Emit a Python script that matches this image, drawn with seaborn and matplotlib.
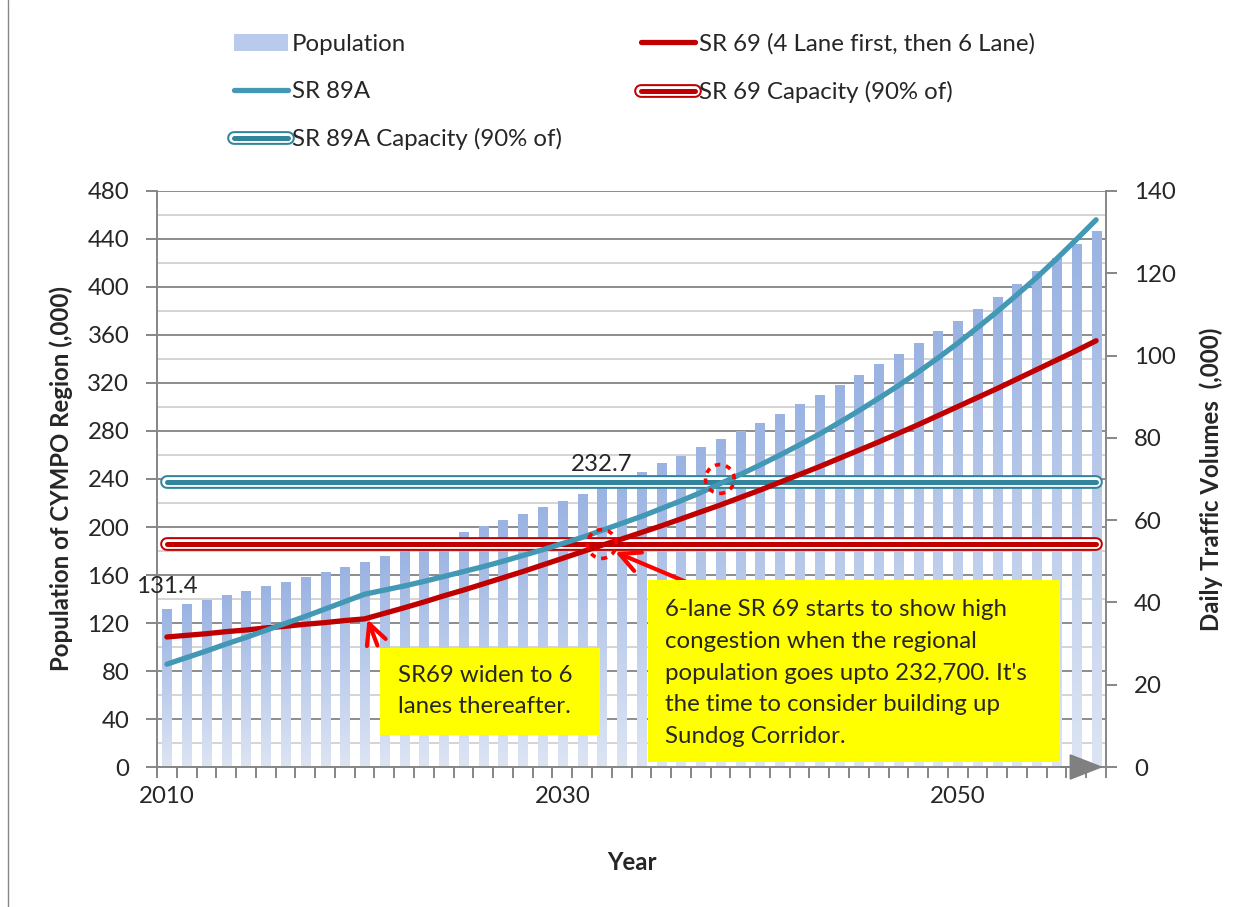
import numpy as np
import pandas as pd
import seaborn as sns
import matplotlib.pyplot as plt
import matplotlib.patheffects as pe
from matplotlib.colors import LinearSegmentedColormap
from matplotlib.lines import Line2D
from matplotlib.patches import Patch, Ellipse, Rectangle

# data
years = list(range(2010, 2058))
population = [131.4, 135.5, 139.0, 142.5, 146.5, 150.0, 154.0, 158.0, 162.0, 166.0,
              170.5, 175.0, 180.0, 185.0, 190.0, 195.0, 200.0, 205.0, 210.0, 216.0,
              221.5, 227.0, 232.7, 238.5, 245.5, 252.5, 259.0, 266.0, 272.5, 279.5,
              286.5, 294.0, 302.0, 309.5, 317.5, 326.5, 335.0, 344.0, 353.0, 362.5,
              371.5, 381.5, 391.5, 402.0, 412.5, 423.5, 435.0, 446.0]
sr69 = [31.6, 32.0, 32.4, 32.9, 33.3, 33.8, 34.2, 34.7, 35.1, 35.6,
        36.0, 37.35, 38.7, 40.1, 41.6, 43.0, 44.5, 46.0, 47.5, 49.1,
        50.7, 52.3, 53.9, 55.4, 57.0, 58.6, 60.3, 62.0, 63.7, 65.5,
        67.3, 69.2, 71.1, 73.0, 75.0, 77.0, 79.0, 81.1, 83.2, 85.4,
        87.6, 89.8, 92.0, 94.3, 96.6, 98.9, 101.2, 103.6]
sr89a = [25.0, 26.6, 28.2, 29.9, 31.5, 33.2, 34.9, 36.6, 38.4, 40.2,
         42.0, 43.0, 44.0, 45.1, 46.3, 47.5, 48.7, 50.0, 51.4, 52.8,
         54.3, 55.8, 57.5, 59.2, 60.9, 62.8, 64.7, 66.7, 68.9, 71.1,
         73.4, 75.8, 78.3, 80.9, 83.7, 86.6, 89.6, 92.7, 96.0, 99.4,
         103.0, 106.8, 110.7, 114.8, 119.0, 123.5, 128.2, 133.0]
sr69_capacity = 54.2
sr89a_capacity = 69.3
year_labels = ['2010', '2030', '2050']

df = pd.DataFrame({'Year': years, 'Population': population,
                   'SR69': sr69, 'SR89A': sr89a})
df['pos'] = range(len(df))
cap = pd.DataFrame({'pos': [0, len(df) - 1],
                    'SR69cap': [sr69_capacity] * 2,
                    'SR89Acap': [sr89a_capacity] * 2})

RED = '#C00000'
TEAL = '#4298B5'
TEAL_DK = '#31849B'
ARROW = '#FF0000'
GRAY = '#868686'

sns.set_theme(style='white')
plt.rcParams['font.family'] = ['Lato', 'DejaVu Sans']
FS = 17.3

fig = plt.figure(figsize=(12.52, 9.07), dpi=100)
ax = fig.add_axes([157 / 1252, 1 - 767 / 907, 949 / 1252, 576 / 907])

# population bars with a vertical gradient
sns.barplot(data=df, x='Year', y='Population', ax=ax, color='#9DB5E3',
            width=0.46, zorder=2)
cmap = LinearSegmentedColormap.from_list('pop', ['#DDE5F4', '#9AB3E2'])
grad = np.linspace(0, 1, 256).reshape(-1, 1)
for bar in ax.patches:
    x0, w, h = bar.get_x(), bar.get_width(), bar.get_height()
    ax.imshow(grad, extent=[x0, x0 + w, 0, h], origin='lower', aspect='auto',
              cmap=cmap, zorder=2)
    bar.set_alpha(0)

ax.set_xlim(-0.5, len(df) - 0.5)
ax.set_ylim(0, 480)
ax.set_yticks(range(0, 481, 40))
ax.set_yticks(range(20, 480, 40), minor=True)
ax.grid(axis='y', which='major', color='#8C8C8C', lw=1.4)
ax.grid(axis='y', which='minor', color='#D4D4D4', lw=1.4)
ax.set_axisbelow(True)
ax.set_xticks([years.index(int(y)) for y in year_labels])
ax.set_xticklabels(year_labels)
ax.set_xticks(np.arange(-0.5, len(df), 1), minor=True)
ax.tick_params(axis='x', which='major', length=0, pad=14, labelsize=FS)
ax.tick_params(axis='x', which='minor', length=8, width=1.4, color=GRAY, bottom=True)
ax.tick_params(axis='y', which='major', length=8, width=1.4, color=GRAY, pad=12,
               labelsize=FS, left=True)
ax.tick_params(axis='y', which='minor', length=0)
for s in ['left', 'bottom']:
    ax.spines[s].set_color(GRAY)
    ax.spines[s].set_linewidth(1.4)
ax.spines['top'].set_visible(False)
ax.spines['right'].set_visible(False)
ax.set_xlabel('Year', fontsize=FS, fontweight='bold', labelpad=31)
ax.set_ylabel('Population of CYMPO Region (,000)', fontsize=FS, fontweight='bold',
              labelpad=10)

for yr in [2010, 2032]:
    i = years.index(yr)
    ax.annotate(f'{population[i]:.1f}', xy=(i, population[i]), xytext=(0, 9),
                textcoords='offset points', ha='center', va='bottom', fontsize=FS)

# axis arrow
ax.annotate('', xy=(1.0, 0), xycoords='axes fraction', xytext=(0.95, 0),
            arrowprops=dict(arrowstyle='-|>,head_length=1.8,head_width=0.7',
                            color='#808080', lw=1.4), annotation_clip=False)

# traffic volumes
ax2 = ax.twinx()
ax2.set_ylim(0, 140)


def double_line(color):
    return [pe.Stroke(linewidth=9.9, foreground=color, capstyle='round'),
            pe.Stroke(linewidth=7.0, foreground='white', capstyle='round'),
            pe.Normal()]


sns.lineplot(data=cap, x='pos', y='SR69cap', ax=ax2, color=RED, lw=3.6,
             path_effects=double_line(RED), zorder=3)
sns.lineplot(data=cap, x='pos', y='SR89Acap', ax=ax2, color=TEAL_DK, lw=3.6,
             path_effects=double_line(TEAL_DK), zorder=3)
sns.lineplot(data=df, x='pos', y='SR69', ax=ax2, color=RED, lw=3.8,
             solid_capstyle='round', zorder=4)
sns.lineplot(data=df, x='pos', y='SR89A', ax=ax2, color=TEAL, lw=3.8,
             solid_capstyle='round', zorder=4)

ax2.set_yticks(range(0, 141, 20))
ax2.tick_params(axis='y', length=8, width=1.4, color=GRAY, pad=12, labelsize=FS,
                right=True)
ax2.spines['right'].set_color(GRAY)
ax2.spines['right'].set_linewidth(1.4)
for s in ['left', 'top', 'bottom']:
    ax2.spines[s].set_visible(False)
ax2.set_ylabel('Daily Traffic Volumes  (,000)', fontsize=FS, fontweight='bold',
               labelpad=17, rotation=90)
ax2.grid(False)
ax.set_xlim(-0.5, len(df) - 0.5)

# dotted circles at the congestion points
for cx, cy in [(22.0, 54.2), (27.97, 70.0)]:
    ax2.add_patch(Ellipse((cx, cy), width=1.45, height=7.0, fill=False,
                          edgecolor=ARROW, lw=2.6, linestyle=(0, (1.5, 1.6)),
                          zorder=5))

# callout arrows
arrow_style = dict(arrowstyle='->,head_length=1.2,head_width=0.6', color=ARROW, lw=3)
ax2.annotate('', xy=(10.1, 36.5), xytext=(10.7, 28.9), arrowprops=arrow_style)
ax2.annotate('', xy=(22.55, 52.5), xytext=(26.5, 44.5), arrowprops=arrow_style)


def fx(px):
    return px / 1252


def fy(py):
    return 1 - py / 907


fig.patches.append(Rectangle((fx(380), fy(735)), fx(220), 87 / 907,
                             transform=fig.transFigure, facecolor='#FFFF00',
                             edgecolor='none', zorder=5))
fig.text(fx(398), fy(691), 'SR69 widen to 6\nlanes thereafter.', fontsize=FS,
         va='center', ha='left', linespacing=1.62, zorder=6)
fig.patches.append(Rectangle((fx(648), fy(762)), fx(412), 182 / 907,
                             transform=fig.transFigure, facecolor='#FFFF00',
                             edgecolor='none', zorder=5))
fig.text(fx(665), fy(673),
         "6-lane SR 69 starts to show high\ncongestion when the regional\n"
         "population goes upto 232,700. It's\nthe time to consider building up\n"
         "Sundog Corridor.", fontsize=FS, va='center', ha='left',
         linespacing=1.62, zorder=6)

# legend
pop_h = Patch(facecolor='#B9CAEC', edgecolor='none')
sr69_h = Line2D([], [], color=RED, lw=3.8, solid_capstyle='round')
sr89_h = Line2D([], [], color=TEAL, lw=3.8, solid_capstyle='round')
cap69_h = Line2D([], [], color=RED, lw=3.6, path_effects=double_line(RED))
cap89_h = Line2D([], [], color=TEAL_DK, lw=3.6, path_effects=double_line(TEAL_DK))
fig.legend(handles=[pop_h, sr89_h, cap89_h, sr69_h, cap69_h],
           labels=['Population', 'SR 89A', 'SR 89A Capacity (90% of)',
                   'SR 69 (4 Lane first, then 6 Lane)', 'SR 69 Capacity (90% of)'],
           ncol=2, loc='upper left', bbox_to_anchor=(fx(234), fy(33)),
           frameon=False, fontsize=FS, handlelength=2.25, handletextpad=0.15,
           columnspacing=3.3, labelspacing=1.1, borderaxespad=0, borderpad=0)

fig.add_artist(Line2D([fx(8), fx(8)], [0, 1], color=GRAY, lw=1))

fig.savefig('out.png', dpi=100)
